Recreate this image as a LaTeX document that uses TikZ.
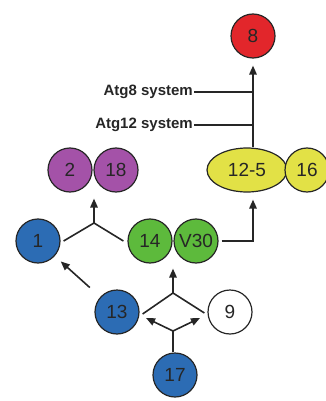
\documentclass[tikz,border=0pt]{standalone}
\usepackage{fontspec}
\setmainfont{Liberation Sans}
\usetikzlibrary{arrows.meta,shapes.geometric}
\definecolor{cred}{HTML}{E2262B}
\definecolor{cpurple}{HTML}{A452A8}
\definecolor{cyellow}{HTML}{E2E146}
\definecolor{cgreen}{HTML}{5DBA3C}
\definecolor{cblue}{HTML}{2C6CB4}
\definecolor{cline}{HTML}{262626}
\begin{document}
\begin{tikzpicture}[x=1pt,y=-1pt,
  circ/.style={circle,draw=cline,line width=1.2pt,minimum size=44pt,inner sep=0pt,
    font=\fontsize{19}{19}\selectfont,text=cline},
  ell/.style={ellipse,draw=cline,line width=1.2pt,minimum width=80pt,minimum height=44pt,
    inner sep=0pt,font=\fontsize{19}{19}\selectfont,text=cline},
  link/.style={draw=cline,line width=1.6pt},
  arr/.style={link,-{Triangle[length=9pt,width=7.5pt]}},
  lab/.style={font=\bfseries\fontsize{15}{15}\selectfont,text=cline,anchor=east,inner sep=1pt}]
\useasboundingbox (0,0) rectangle (326,401);

% nodes
\node[circ,fill=cred] (n8) at (253,36) {8};
\node[circ,fill=cpurple] (n2) at (70,170) {2};
\node[circ,fill=cpurple] (n18) at (116,170) {18};
\node[ell,fill=cyellow] (n125) at (247,170) {12-5};
\node[circ,fill=cyellow] (n16) at (307,170) {16};
\node[circ,fill=cblue] (n1) at (38,241) {1};
\node[circ,fill=cgreen] (n14) at (150,241) {14};
\node[circ,fill=cgreen] (nV30) at (196,241) {V30};
\node[circ,fill=cblue] (n13) at (117,312) {13};
\node[circ,fill=white] (n9) at (230,312) {9};
\node[circ,fill=cblue] (n17) at (175,375) {17};

% labels
\node[lab] (l8) at (194,92) {Atg8 system};
\node[lab] (l12) at (194,125) {Atg12 system};

% junction coordinates
\coordinate (j1) at (94,223);
\coordinate (j2) at (173,293);
\coordinate (j3) at (173,331);
\coordinate (t13) at (146,318);
\coordinate (t9) at (200,318);

% connectors
\draw[arr,shorten >=7pt] (n8 |- n125.north) -- (n8.south);
\draw[link] (l8.east) -- (l8 -| n8);
\draw[link] (l12.east) -- (l12 -| n8);

\draw[link] ([xshift=3pt]n1.east) -- (j1) -- ([xshift=-4pt]n14.west);
\draw[arr,shorten >=6pt] (j1) -- (j1 |- n2.south);

\draw[arr,shorten >=7pt] ([xshift=3pt]nV30.east) -- (n8 |- nV30) -- (n8 |- n125.south);

\draw[arr,shorten <=14pt,shorten >=8pt] (n13) -- (n1);

\draw[link] ([xshift=3pt,yshift=-2pt]n13.east) -- (j2) -- ([xshift=-3pt,yshift=-1pt]n9.west);
\draw[arr,shorten >=5pt] (j2) -- (j2 |- n14.south);

\draw[link] (j3 |- n17.north) -- (j3);
\draw[arr] (j3) -- (t13);
\draw[arr] (j3) -- (t9);
\end{tikzpicture}
\end{document}
